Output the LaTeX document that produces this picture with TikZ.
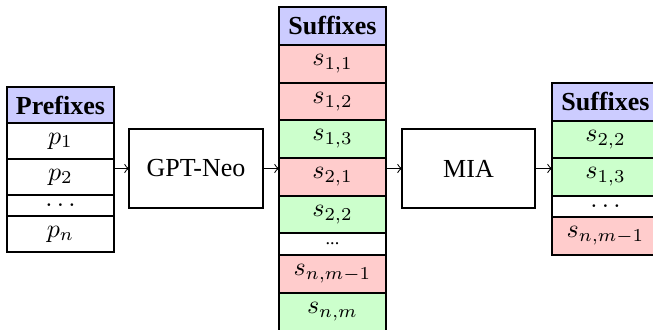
\documentclass[tikz,border=0pt]{standalone}
\usepackage{fontspec}
\setmainfont{Liberation Serif}[BoldFont={Liberation Serif Bold},ItalicFont={Liberation Serif Italic}]
\usetikzlibrary{arrows}
\begin{document}
\begin{tikzpicture}[x=0.3846pt,y=-0.3846pt,
  cell/.style={draw, line width=0.4pt, minimum width=41.15pt, minimum height=#1*0.3846pt, inner sep=0pt, outer sep=0pt},
  hdr/.style={fill=blue!20, font=\bfseries},
  red/.style={fill=red!20},
  grn/.style={fill=green!20},
  proc/.style={draw, line width=0.4pt, minimum width=#1*0.3846pt, minimum height=79*0.3846pt, inner sep=0pt, outer sep=0pt},
  arr/.style={->, line width=0.4pt}]
\useasboundingbox (0,0) rectangle (653,330);
% Prefixes table
\node[cell=36, hdr] (ph) at (60.5,105) {Prefixes};
\node[cell=36] (p1) at (60.5,141) {$p_1$};
\node[cell=36] (p2) at (60.5,177) {$p_2$};
\node[cell=21] (pd) at (60.5,205.5) {$\dots$};
\node[cell=36] (pn) at (60.5,234) {$p_n$};
% GPT-Neo
\node[proc=134] (gpt) at (196,168.5) {GPT-Neo};
% Middle suffixes
\node[cell=38, hdr] (sh) at (332.5,26) {Suffixes};
\node[cell=38, red] (s11) at (332.5,64) {$s_{1,1}$};
\node[cell=37, red] (s12) at (332.5,101.5) {$s_{1,2}$};
\node[cell=38, grn] (s13) at (332.5,139) {$s_{1,3}$};
\node[cell=38, red] (s21) at (332.5,177) {$s_{2,1}$};
\node[cell=37, grn] (s22) at (332.5,214.5) {$s_{2,2}$};
\node[cell=22, font=\scriptsize] (sd) at (332.5,244) {\raisebox{0.5pt}{...}};
\node[cell=38, red] (snm1) at (332.5,274) {$s_{n,m-1}$};
\node[cell=38, grn] (snm) at (332.5,312) {$s_{n,m}$};
% MIA
\node[proc=133] (mia) at (468.5,168.5) {MIA};
% Right suffixes
\node[cell=38, hdr] (rh) at (605.5,102) {Suffixes};
\node[cell=37, grn] (r22) at (605.5,139.5) {$s_{2,2}$};
\node[cell=38, grn] (r13) at (605.5,177) {$s_{1,3}$};
\node[cell=21] (rd) at (605.5,206.5) {$\dots$};
\node[cell=38, red] (rnm1) at (605.5,236) {$s_{n,m-1}$};
% arrows
\draw[arr] (p2.east |- gpt.west) -- (gpt.west);
\draw[arr] (gpt.east) -- (s21.west |- gpt.east);
\draw[arr] (s21.east |- mia.west) -- (mia.west);
\draw[arr] (mia.east) -- (r13.west |- mia.east);
\end{tikzpicture}
\end{document}
